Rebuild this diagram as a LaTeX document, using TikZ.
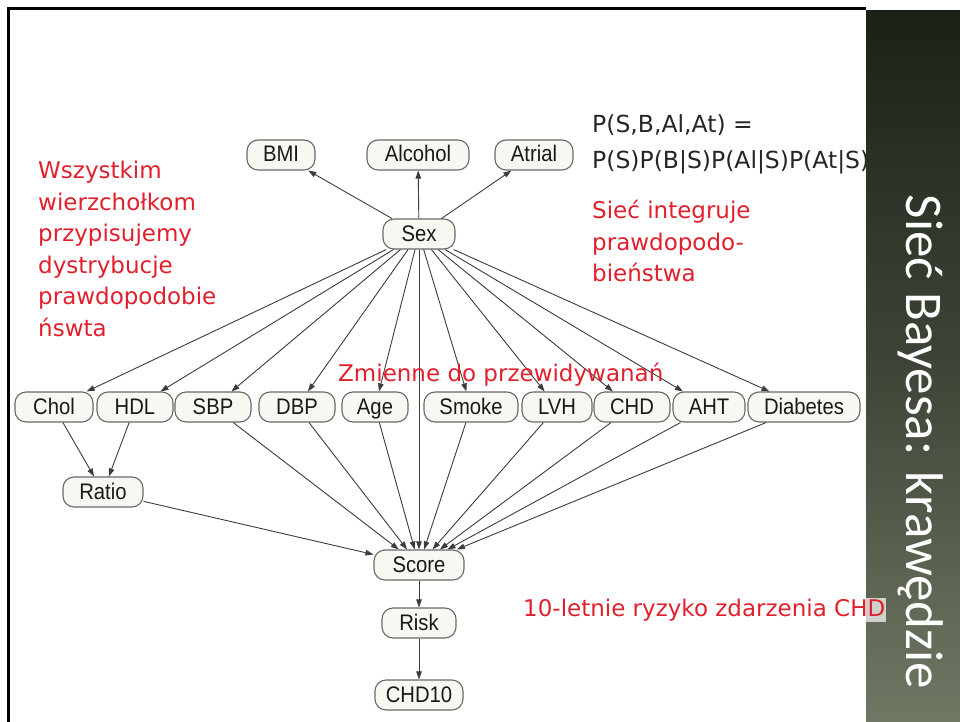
\documentclass[tikz,border=0pt]{standalone}
\usepackage{fontspec}
\usetikzlibrary{arrows.meta}
\newfontfamily\nodefont[FakeStretch=0.9]{Liberation Sans}
\newfontfamily\notefont{DejaVu Sans}
\newfontfamily\titlefont{Carlito}
\definecolor{notered}{RGB}{226,32,45}
\definecolor{edgegray}{RGB}{60,60,60}
\definecolor{nodefill}{RGB}{249,247,242}
\definecolor{nodeline}{RGB}{105,105,105}
\definecolor{bartop}{RGB}{27,33,23}
\definecolor{barmid}{RGB}{62,69,56}
\definecolor{barbot}{RGB}{112,120,100}
\begin{document}
\begin{tikzpicture}[x=1pt,y=-1pt,
  var/.style={draw=nodeline, fill=nodefill, line width=1.1pt, rounded corners=11pt,
    minimum height=30pt, inner sep=0pt, text=black!90,
    text height=15pt, text depth=1pt,
    font={\nodefont\fontsize{22.5}{26}\selectfont}},
  link/.style={draw=edgegray, line width=0.9pt, -{Triangle[length=8pt,width=5.5pt]}},
  note/.style={inner sep=0pt, align=left, text=notered,
    font={\notefont\fontsize{23}{31.5}\selectfont}},
]
\useasboundingbox (0,0) rectangle (960,722);
\fill[white] (0,0) rectangle (960,722);

% slide frame
\draw[line width=3pt, black] (8,740) -- (8,9) -- (866,9);

% variables
\node[var, minimum width=68pt]  (bmi)   at (281,155) {BMI};
\node[var, minimum width=102pt] (alc)   at (418,155) {Alcohol};
\node[var, minimum width=78pt]  (atr)   at (534,155) {Atrial};
\node[var, minimum width=72pt]  (sex)   at (419,234) {Sex};
\node[var, minimum width=78pt]  (chol)  at (54,407)  {Chol};
\node[var, minimum width=76pt]  (hdl)   at (135,407) {HDL};
\node[var, minimum width=76pt]  (sbp)   at (213,407) {SBP};
\node[var, minimum width=76pt]  (dbp)   at (297,407) {DBP};
\node[var, minimum width=66pt]  (age)   at (375,407) {Age};
\node[var, minimum width=94pt]  (smoke) at (471,407) {Smoke};
\node[var, minimum width=70pt]  (lvh)   at (557,407) {LVH};
\node[var, minimum width=76pt]  (chd)   at (632,407) {CHD};
\node[var, minimum width=72pt]  (aht)   at (709,407) {AHT};
\node[var, minimum width=112pt] (diab)  at (804,407) {Diabetes};
\node[var, minimum width=80pt]  (ratio) at (103,492) {Ratio};
\node[var, minimum width=90pt]  (score) at (419,565) {Score};
\node[var, minimum width=74pt]  (risk)  at (419,623) {Risk};
\node[var, minimum width=88pt]  (chd10) at (419,695) {CHD10};

% dependencies
\foreach \t in {bmi,alc,atr,chol,hdl,sbp,dbp,age,smoke,lvh,chd,aht,diab}
  \draw[link] (sex) -- (\t);
\draw[link] (chol) -- (ratio);
\draw[link] (hdl) -- (ratio);
\foreach \s in {ratio,sbp,dbp,age,sex,smoke,lvh,chd,aht,diab}
  \draw[link] (\s) -- (score);
\draw[link] (score) -- (risk);
\draw[link] (risk) -- (chd10);

% annotations
\node[note, anchor=north west, text=black!85,
  font={\notefont\fontsize{23.5}{36}\selectfont}] (formula) at (592,114)
  {P(S,B,Al,At) =\\P(S)P(B|S)P(Al|S)P(At|S)};
\node[note, anchor=north west] (leftnote) at (38,161)
  {Wszystkim\\wierzchołkom\\przypisujemy\\dystrybucje\\prawdopodobie\\ńswta};
\node[note, anchor=north west] (rightnote) at (592,200)
  {Sieć integruje\\prawdopodo-\\bieństwa};
\node[note, anchor=base west] (predict) at (338,381) {Zmienne do przewidywanań};

% title bar
\shade[top color=bartop, bottom color=barbot, middle color=barmid]
  (866,11) rectangle (960,722);
\node[rotate=-90, anchor=base, inner sep=0pt, text=white,
  font={\titlefont\fontsize{53}{60}\selectfont}] (title) at (906,442)
  {Sieć Bayesa: krawędzie};

\node[note, anchor=base west, fill=white, fill opacity=0.7, text opacity=1,
  inner sep=1pt] (riskcap) at (522,616) {10-letnie ryzyko zdarzenia CHD};
\end{tikzpicture}
\end{document}
